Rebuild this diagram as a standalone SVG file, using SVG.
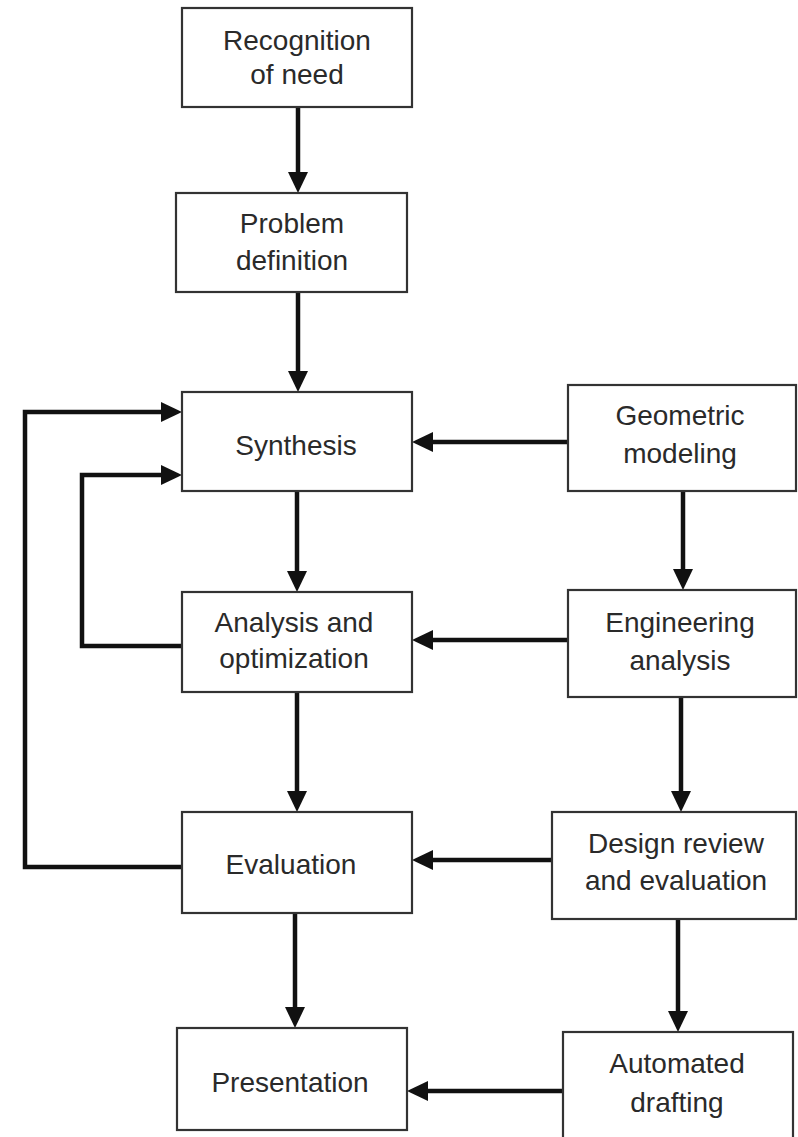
<svg xmlns="http://www.w3.org/2000/svg" width="798" height="1137" viewBox="0 0 798 1137">
  <style>
    .box { fill: #ffffff; stroke: #333333; stroke-width: 2.2; }
    .lbl { font-family: "Liberation Sans", Arial, sans-serif; font-size: 28px; fill: #2a2a2a; text-anchor: middle; }
    .wire { fill: none; stroke: #111111; stroke-width: 4.5; stroke-linejoin: miter; }
  </style>
  <defs>
    <marker id="head" markerUnits="userSpaceOnUse" markerWidth="22" markerHeight="22" refX="2" refY="10" orient="auto">
      <path d="M0,0 L21,10 L0,20 Z" fill="#111111"/>
    </marker>
  </defs>
  <rect width="798" height="1137" fill="#ffffff"/>

  <!-- connectors -->
  <g id="connectors" class="wire" marker-end="url(#head)">
    <path d="M298,107 V174"/>
    <path d="M298,292 V373"/>
    <path d="M297,491 V573"/>
    <path d="M297,692 V793"/>
    <path d="M295,913 V1009"/>
    <path d="M568,442 H431"/>
    <path d="M568,640 H431"/>
    <path d="M552,860 H431"/>
    <path d="M563,1091 H426"/>
    <path d="M683,491 V571"/>
    <path d="M681,697 V793"/>
    <path d="M678,918 V1013"/>
    <path d="M182,646 H82 V475 H163"/>
    <path d="M182,867 H25 V412 H163"/>
  </g>

  <!-- left column -->
  <g id="recognition">
    <rect class="box" x="182" y="8" width="230" height="99"/>
    <text class="lbl" x="297" y="50">Recognition</text>
    <text class="lbl" x="297" y="84">of need</text>
  </g>
  <g id="problem">
    <rect class="box" x="176" y="193" width="231" height="99"/>
    <text class="lbl" x="292" y="233">Problem</text>
    <text class="lbl" x="292" y="270">definition</text>
  </g>
  <g id="synthesis">
    <rect class="box" x="182" y="392" width="230" height="99"/>
    <text class="lbl" x="296" y="455">Synthesis</text>
  </g>
  <g id="analysis">
    <rect class="box" x="182" y="592" width="230" height="100"/>
    <text class="lbl" x="294" y="632">Analysis and</text>
    <text class="lbl" x="294" y="668">optimization</text>
  </g>
  <g id="evaluation">
    <rect class="box" x="182" y="812" width="230" height="101"/>
    <text class="lbl" x="291" y="874">Evaluation</text>
  </g>
  <g id="presentation">
    <rect class="box" x="177" y="1028" width="230" height="102"/>
    <text class="lbl" x="290" y="1092">Presentation</text>
  </g>

  <!-- right column -->
  <g id="geometric">
    <rect class="box" x="568" y="385" width="228" height="106"/>
    <text class="lbl" x="680" y="425">Geometric</text>
    <text class="lbl" x="680" y="463">modeling</text>
  </g>
  <g id="engineering">
    <rect class="box" x="568" y="590" width="228" height="107"/>
    <text class="lbl" x="680" y="632">Engineering</text>
    <text class="lbl" x="680" y="670">analysis</text>
  </g>
  <g id="design-review">
    <rect class="box" x="552" y="812" width="244" height="107"/>
    <text class="lbl" x="676" y="853">Design review</text>
    <text class="lbl" x="676" y="890">and evaluation</text>
  </g>
  <g id="drafting">
    <rect class="box" x="563" y="1032" width="230" height="115"/>
    <text class="lbl" x="677" y="1073">Automated</text>
    <text class="lbl" x="677" y="1112">drafting</text>
  </g>
</svg>
